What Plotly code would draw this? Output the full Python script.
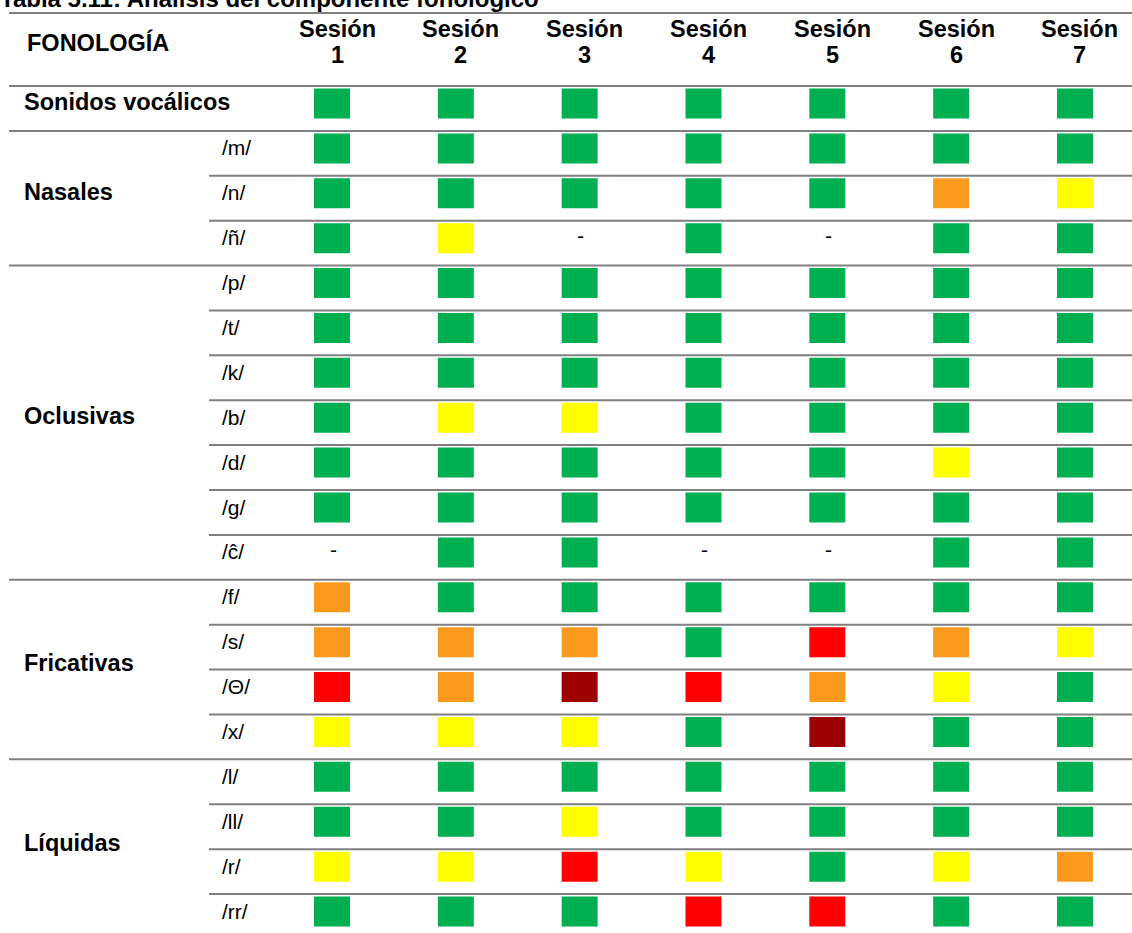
import plotly.graph_objects as go

# ---------------- data ----------------
title = "Tabla 5.11: Análisis del componente fonológico"
header_label = "FONOLOGÍA"
session_word = "Sesión"
sessions = [1, 2, 3, 4, 5, 6, 7]

row_labels = ["Sonidos vocálicos", "/m/", "/n/", "/ñ/", "/p/", "/t/", "/k/", "/b/",
              "/d/", "/g/", "/ĉ/", "/f/", "/s/", "/Θ/", "/x/", "/l/", "/ll/", "/r/", "/rr/"]

group_names = ["Nasales", "Oclusivas", "Fricativas", "Líquidas"]
group_start = [1, 4, 11, 15]
group_end = [4, 11, 15, 19]

# status codes: G=verde, Y=amarillo, O=naranja, R=rojo, D=rojo oscuro, - = sin dato
sesion_1 = ["G", "G", "G", "G", "G", "G", "G", "G", "G", "G", "-", "O", "O", "R", "Y", "G", "G", "Y", "G"]
sesion_2 = ["G", "G", "G", "Y", "G", "G", "G", "Y", "G", "G", "G", "G", "O", "O", "Y", "G", "G", "Y", "G"]
sesion_3 = ["G", "G", "G", "-", "G", "G", "G", "Y", "G", "G", "G", "G", "O", "D", "Y", "G", "Y", "R", "G"]
sesion_4 = ["G", "G", "G", "G", "G", "G", "G", "G", "G", "G", "-", "G", "G", "R", "G", "G", "G", "Y", "R"]
sesion_5 = ["G", "G", "G", "-", "G", "G", "G", "G", "G", "G", "-", "G", "R", "O", "D", "G", "G", "G", "R"]
sesion_6 = ["G", "G", "O", "G", "G", "G", "G", "G", "Y", "G", "G", "G", "O", "Y", "G", "G", "G", "Y", "G"]
sesion_7 = ["G", "G", "Y", "G", "G", "G", "G", "G", "G", "G", "G", "G", "Y", "G", "G", "G", "G", "O", "G"]
session_status = [sesion_1, sesion_2, sesion_3, sesion_4, sesion_5, sesion_6, sesion_7]

status_colors = {"G": "#00B050", "Y": "#FFFF00", "O": "#F99A1E", "R": "#FF0000", "D": "#9C0000"}

# ---------------- layout geometry (pixels) ----------------
W, H = 1132, 933
ROW0_PX = 86.0      # pixel of top of first data row
ROW_H = 44.89       # pixel height of a row
COL1_PX = 332.0     # pixel center of session 1 squares
COL_W = 123.83      # pixel distance between sessions

def xd(px):
    return (px - COL1_PX) / COL_W + 1

def yd(px):
    return (px - ROW0_PX) / ROW_H

FONT = "Arial, 'Liberation Sans', sans-serif"
LINE_COLOR = "#808080"
BOLD_SIZE = 23.5
REG_SIZE = 21

fig = go.Figure()

# squares as bars
for code, color in status_colors.items():
    xs, bases = [], []
    for s, col in zip(sessions, session_status):
        for i, st in enumerate(col):
            if st == code:
                xs.append(s)
                bases.append(i + 2.5 / ROW_H)
    if xs:
        fig.add_trace(go.Bar(
            x=xs, y=[30 / ROW_H] * len(xs), base=bases,
            width=36 / COL_W, marker=dict(color=color, line=dict(width=0)),
            hoverinfo="skip", showlegend=False))

annotations = []

def txt(text, x, y, size, bold=False, xanchor="left", xref="x", yref="y", xshift=0):
    annotations.append(dict(
        text=f"<b>{text}</b>" if bold else text, x=x, y=y, xref=xref, yref=yref,
        xanchor=xanchor, yanchor="middle", showarrow=False, xshift=xshift,
        font=dict(family=FONT, size=size, color="black")))

# title (partially cut off at top of the picture)
txt(title, -2 / W, 1 + 2 / H, 24, bold=True, xref="paper", yref="paper")
# header
txt(header_label, xd(25), yd(42), BOLD_SIZE, bold=True)
for s in sessions:
    txt(session_word, s, yd(29), BOLD_SIZE, bold=True, xanchor="center", xshift=5)
    txt(str(s), s, yd(55), BOLD_SIZE, bold=True, xanchor="center", xshift=5)

# row labels
for i, lab in enumerate(row_labels):
    if i == 0:
        txt(lab, xd(22), i + 15.5 / ROW_H, BOLD_SIZE, bold=True)
    else:
        txt(lab, xd(220), i + 17 / ROW_H, REG_SIZE)

# group labels
for name, a, b in zip(group_names, group_start, group_end):
    txt(name, xd(22), (a + b) / 2 - 6.5 / ROW_H, BOLD_SIZE, bold=True)

# missing markers
for s, col in zip(sessions, session_status):
    for i, st in enumerate(col):
        if st == "-":
            txt("-", s, i + 15 / ROW_H, REG_SIZE, xanchor="center", xshift=1)

# horizontal rules
shapes = []
full_lines = set([0] + group_start)
shapes.append(dict(type="line", xref="paper", yref="y", x0=9 / W, x1=1, y0=yd(13), y1=yd(13),
                   line=dict(color=LINE_COLOR, width=2)))
for k in range(0, len(row_labels)):
    x0 = 9 / W if k in full_lines else 209 / W
    shapes.append(dict(type="line", xref="paper", yref="y", x0=x0, x1=1, y0=k, y1=k,
                       line=dict(color=LINE_COLOR, width=2)))

fig.update_layout(
    width=W, height=H, margin=dict(l=0, r=0, t=0, b=0),
    paper_bgcolor="white", plot_bgcolor="white",
    barmode="overlay", showlegend=False,
    xaxis=dict(range=[xd(0), xd(W)], visible=False, fixedrange=True),
    yaxis=dict(range=[yd(H), yd(0)], visible=False, fixedrange=True),
    annotations=annotations, shapes=shapes,
)

fig.write_html(
    "out.html",
    config={"displayModeBar": False},
    post_script="document.body.style.margin='0';document.body.style.overflow='hidden';",
)
